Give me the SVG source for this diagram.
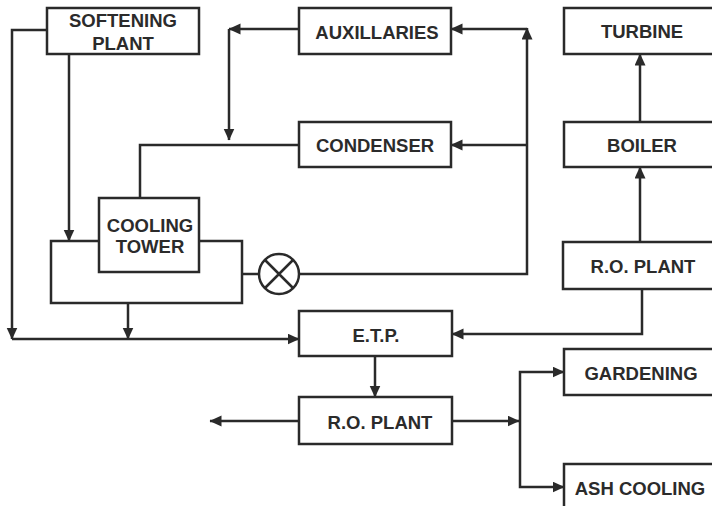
<svg xmlns="http://www.w3.org/2000/svg" width="712" height="506" viewBox="0 0 712 506">
<defs>
<style>
.box{fill:#fff;stroke:#2a2a2a;stroke-width:2.5}
.ln{fill:none;stroke:#2a2a2a;stroke-width:2.5}
.ar{fill:none;stroke:#2a2a2a;stroke-width:2.5;marker-end:url(#ah)}
text{font-family:"Liberation Sans",Arial,sans-serif;font-weight:bold;font-size:18.5px;fill:#2b2b2b;text-anchor:middle}
</style>
<marker id="ah" markerUnits="userSpaceOnUse" markerWidth="13" markerHeight="12" refX="11.5" refY="5.5" orient="auto">
<path d="M0,0 L12,5.5 L0,11 Z" fill="#2a2a2a"/>
</marker>
</defs>
<rect width="712" height="506" fill="#fff"/>
<g id="connectors">
<polyline class="ar" points="47,30 12,30 12,339"/>
<polyline class="ar" points="12,339 299,339"/>
<polyline class="ar" points="69,54 69,241"/>
<polyline class="ar" points="128,303 128,339"/>
<polyline class="ar" points="299,29 229,29"/>
<polyline class="ar" points="229,29 229,140"/>
<polyline class="ln" points="299,145 140,145 140,198"/>
<polyline class="ln" points="242,274 259,274"/>
<polyline class="ar" points="299,274 527,274 527,28"/>
<polyline class="ar" points="527,29 451,29"/>
<polyline class="ar" points="527,145 451,145"/>
<polyline class="ar" points="640,122 640,54"/>
<polyline class="ar" points="640,242 640,167"/>
<polyline class="ar" points="642,289 642,334 452,334"/>
<polyline class="ar" points="375,356 375,397"/>
<polyline class="ar" points="299,421 210,421"/>
<polyline class="ar" points="451,421 519,421"/>
<polyline class="ar" points="520,421 520,372 564,372"/>
<polyline class="ar" points="520,421 520,487 564,487"/>
</g>
<g id="basin"><rect class="box" x="51" y="241" width="191" height="62"/></g>
<g id="valve">
<circle class="box" cx="279" cy="274" r="20"/>
<path class="ln" d="M265,260 L293,288 M293,260 L265,288"/>
</g>
<g id="softening"><rect class="box" x="47" y="8" width="152" height="46"/><text x="123" y="27">SOFTENING</text><text x="123" y="50">PLANT</text></g>
<g id="auxillaries"><rect class="box" x="299" y="8" width="152" height="46"/><text x="377" y="39">AUXILLARIES</text></g>
<g id="condenser"><rect class="box" x="299" y="122" width="152" height="45"/><text x="375" y="152">CONDENSER</text></g>
<g id="turbine"><rect class="box" x="564" y="8" width="152" height="46"/><text x="642" y="38">TURBINE</text></g>
<g id="boiler"><rect class="box" x="564" y="122" width="152" height="45"/><text x="642" y="152">BOILER</text></g>
<g id="cooling-tower"><rect class="box" x="99" y="198" width="100" height="74"/><text x="150" y="232">COOLING</text><text x="150" y="253">TOWER</text></g>
<g id="ro-plant-1"><rect class="box" x="563" y="242" width="153" height="47"/><text x="643" y="273">R.O. PLANT</text></g>
<g id="etp"><rect class="box" x="299" y="311" width="153" height="45"/><text x="376" y="342">E.T.P.</text></g>
<g id="ro-plant-2"><rect class="box" x="299" y="397" width="153" height="47"/><text x="380" y="429">R.O. PLANT</text></g>
<g id="gardening"><rect class="box" x="564" y="349" width="152" height="46"/><text x="641" y="380">GARDENING</text></g>
<g id="ash-cooling"><rect class="box" x="564" y="464" width="152" height="50"/><text x="640" y="495">ASH COOLING</text></g>
</svg>
